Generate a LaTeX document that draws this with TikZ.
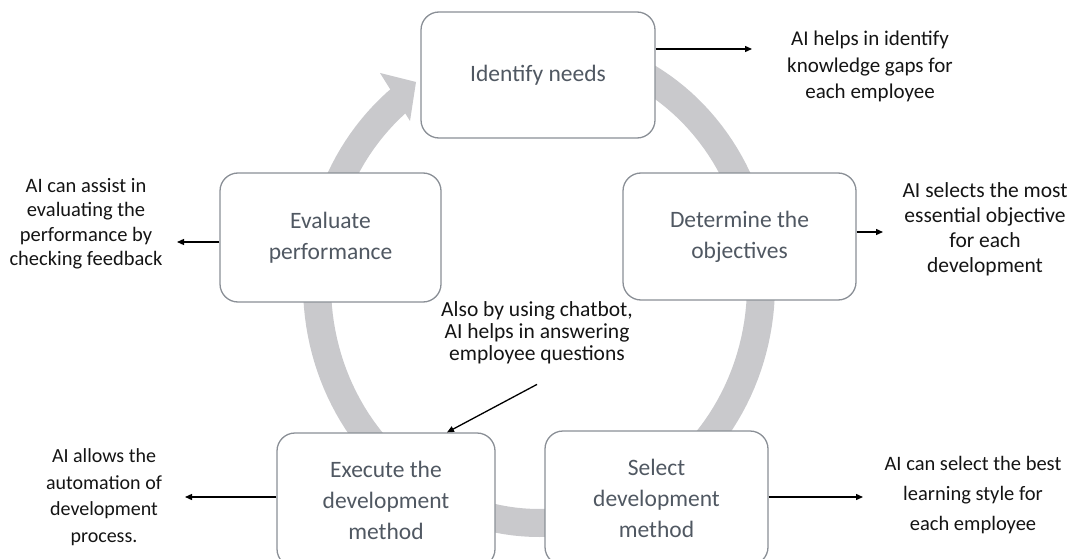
\documentclass[tikz,border=0pt]{standalone}
\usepackage{fontspec}
\setmainfont{Carlito}
\usetikzlibrary{arrows.meta}
\definecolor{ringgray}{RGB}{201,201,204}
\definecolor{boxline}{RGB}{138,143,150}
\definecolor{boxtext}{RGB}{80,88,98}
\definecolor{sidetext}{RGB}{20,20,20}
\tikzset{
  stepbox/.style={draw=boxline, line width=1.3pt, fill=white, rounded corners=18pt,
    align=center, text=boxtext, font=\fontsize{23.5}{31}\selectfont, inner sep=0pt},
  sidenote/.style={align=center, text=sidetext, font=\fontsize{21}{26.5}\selectfont, inner sep=0pt},
  conn/.style={line width=1.3pt, black, -{Triangle[length=7pt,width=6pt]}}
}
\begin{document}
\begin{tikzpicture}[x=1pt, y=-1pt]
\useasboundingbox (0,0) rectangle (1073,559);
% ring
\draw[ringgray, line width=28pt] plot[domain=-84:232, samples=150]
  ({539+222*cos(\x)}, {285+238*sin(\x)});
\fill[ringgray] (380,73) -- (416,82) -- (410,121) -- cycle;
% boxes
\node[stepbox, minimum width=234pt, minimum height=126pt] (id) at (538,75) {Identify needs};
\node[stepbox, minimum width=233pt, minimum height=127pt] (det) at (739.5,236.5) {Determine the\\objectives};
\node[stepbox, minimum width=221pt, minimum height=129pt] (eva) at (330.5,237.5) {Evaluate\\performance};
\node[stepbox, minimum width=218pt, minimum height=134pt] (exe) at (386,500) {Execute the\\development\\method};
\node[stepbox, minimum width=223pt, minimum height=134pt] (sel) at (656.5,498) {Select\\development\\method};
% side notes
\node[sidenote] (t1) at (870,66.5) {AI helps in identify\\knowledge gaps for\\each employee};
\node[sidenote, font=\fontsize{21.5}{25}\selectfont] (t2) at (985,229.5) {AI selects the most\\essential objective\\for each\\development};
\node[sidenote, font=\fontsize{20.5}{24.5}\selectfont] (t3) at (86,223.5) {AI can assist in\\evaluating the\\performance by\\checking feedback};
\node[sidenote, font=\fontsize{20}{26.5}\selectfont] (t4) at (104,497) {AI allows the\\automation of\\development\\process.};
\node[sidenote, font=\fontsize{20.5}{30}\selectfont] (t5) at (973,495) {AI can select the best\\learning style for\\each employee};
\node[sidenote, font=\fontsize{21.5}{22}\selectfont] (chat) at (537,333) {Also by using chatbot,\\AI helps in answering\\employee questions};
% connectors
\coordinate (e1) at (752,49);
\coordinate (e2) at (883,232);
\coordinate (e3) at (177,242);
\coordinate (e4) at (185,497);
\coordinate (e5) at (863,497);
\coordinate (e6) at (447,433);
\draw[conn] (id.east |- e1) -- (e1);
\draw[conn] (det.east |- e2) -- (e2);
\draw[conn] (eva.west |- e3) -- (e3);
\draw[conn] (exe.west |- e4) -- (e4);
\draw[conn] (sel.east |- e5) -- (e5);
\draw[conn] ([yshift=-20pt]chat.south) -- (e6 |- exe.north);
\end{tikzpicture}
\end{document}
